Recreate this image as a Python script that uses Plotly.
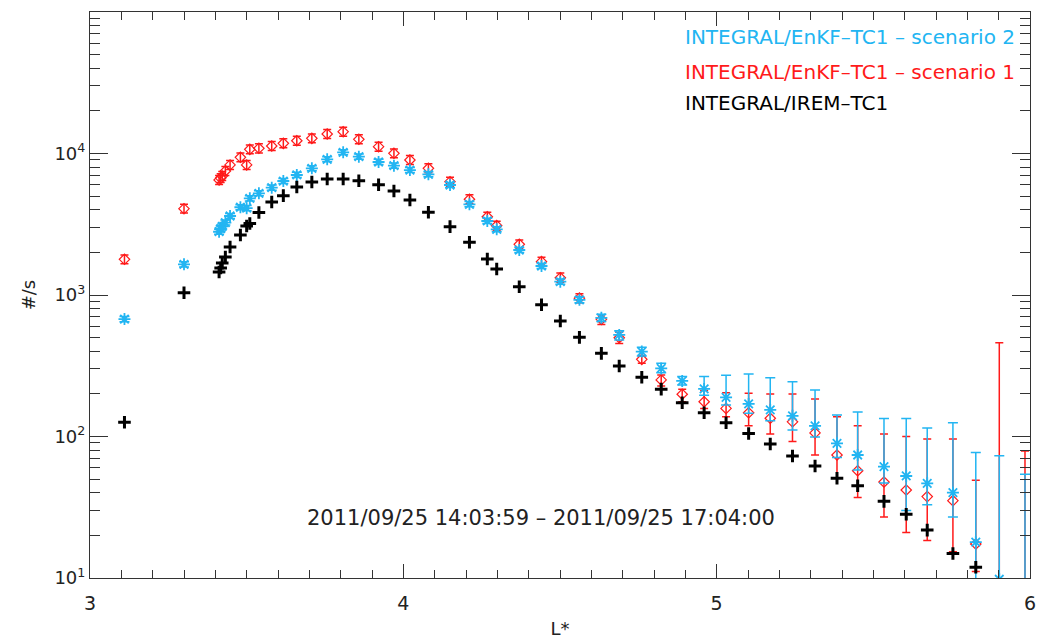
import plotly.graph_objects as go

# L* values shared by all three series
lstar = [3.11, 3.30, 3.412, 3.417, 3.422, 3.432, 3.447, 3.480, 3.500, 3.510,
         3.539, 3.580, 3.617, 3.660, 3.708, 3.757, 3.808, 3.858, 3.921, 3.970,
         4.021, 4.080, 4.149, 4.211, 4.268, 4.298, 4.370, 4.441, 4.501, 4.562,
         4.632, 4.689, 4.761, 4.823, 4.890, 4.960, 5.030, 5.102, 5.171, 5.242,
         5.314, 5.384, 5.450, 5.534, 5.605, 5.672, 5.754, 5.827, 5.902, 5.984]

# INTEGRAL/IREM-TC1 (black)
irem = [126, 1038, 1455, 1550, 1680, 1857, 2183, 2655, 3075, 3200,
        3830, 4540, 5035, 5800, 6290, 6600, 6600, 6420, 6010, 5430,
        4690, 3840, 3040, 2357, 1796, 1527, 1145, 854, 655, 502,
        387, 315, 262, 216, 173, 147, 125, 105, 88.5, 72.8,
        61.9, 50.7, 44.9, 34.8, 28.2, 21.8, 14.9, 11.9, None, None]

# INTEGRAL/EnKF-TC1 - scenario 1 (red)
sc1 = [1787, 4074, 6500, 6700, 6935, 7520, 8300, 9400, 8300, 10700,
       10880, 11300, 11800, 12300, 12800, 13740, 14260, 12600, 11170, 10030,
       9000, 7860, 6320, 4750, 3575, 3090, 2282, 1720, 1325, 950,
       673, 499, 351, 251, 199, 176, 158, 147, 134.5, 127,
       106, 74, 57.3, 47.7, 41.9, 37.6, 35.2, 17.4, 8.5, 8]
sc1_hi = [1920, 4380, 6990, 7200, 7460, 8080, 8920, 10100, 8920, 11500,
          11700, 12150, 12690, 13220, 13760, 14770, 15330, 13550, 12010, 10780,
          9680, 8450, 6790, 5110, 3840, 3320, 2450, 1850, 1430, 1020,
          725, 545, 371, 272, 216, 211, 204, 202, 200, 200,
          184, 138, 119, 104, 100, 96, 96, 49, 460, 79]
sc1_lo = [1660, 3790, 6050, 6230, 6450, 6990, 7720, 8740, 7720, 9950,
          10100, 10500, 10970, 11440, 11900, 12780, 13260, 11720, 10390, 9330,
          8370, 7310, 5880, 4420, 3320, 2870, 2120, 1600, 1230, 880,
          620, 455, 329, 227, 176, 158, 138, 119, 104, 92,
          74, 51, 37, 27, 21, 18.4, 15.3, 11.1, 1, 1]

# INTEGRAL/EnKF-TC1 - scenario 2 (blue)
sc2 = [676, 1648, 2800, 2950, 3050, 3250, 3616, 4170, 4110, 4820,
       5230, 5730, 6390, 7050, 7860, 9100, 10200, 9500, 8710, 8200,
       7640, 7130, 5990, 4375, 3335, 2913, 2080, 1603, 1242, 925,
       690, 522, 398, 303, 247, 217, 189, 170, 154, 140,
       119, 89.5, 74, 61.2, 52.6, 46.7, 40.1, 17.9, 9.8, 8]
sc2_hi = [705, 1720, 2920, 3080, 3180, 3390, 3770, 4350, 4290, 5030,
          5460, 5980, 6670, 7360, 8200, 9500, 10650, 9910, 9090, 8560,
          7970, 7440, 6250, 4570, 3480, 3040, 2170, 1670, 1300, 970,
          730, 560, 427, 329, 265, 265, 271, 277, 260, 244,
          213, 142, 149, 134, 134, 115, 125, 77, 73, 54]
sc2_lo = [648, 1580, 2690, 2830, 2930, 3120, 3470, 4000, 3940, 4620,
          5020, 5500, 6130, 6760, 7540, 8730, 9790, 9120, 8360, 7870,
          7330, 6840, 5750, 4200, 3200, 2800, 2000, 1540, 1190, 880,
          650, 481, 371, 282, 231, 196, 167, 146, 129, 111,
          99, 71, 58, 47, 30, 33, 27, 3, 1, 1]

legend_labels = ["INTEGRAL/EnKF\u2013TC1 \u2013 scenario 2",
                 "INTEGRAL/EnKF\u2013TC1 \u2013 scenario 1",
                 "INTEGRAL/IREM\u2013TC1"]
date_label = "2011/09/25 14:03:59 \u2013 2011/09/25 17:04:00"
ytick_vals = [1e1, 1e2, 1e3, 1e4, 1e5]
ytick_text = ["10<sup>1</sup>", "10<sup>2</sup>", "10<sup>3</sup>",
              "10<sup>4</sup>", "10<sup>5</sup>"]

RED = "#ff1a1a"
BLUE = "#22b5f2"
FONT = "DejaVu Sans"

def plus(v, hi):
    return [h - x for x, h in zip(v, hi)]

def minus(v, lo):
    return [x - l for x, l in zip(v, lo)]

fig = go.Figure()

fig.add_trace(go.Scatter(
    x=lstar, y=sc1, mode="markers",
    marker=dict(symbol="diamond-open", size=8, color=RED, line=dict(width=1.2, color=RED)),
    error_y=dict(type="data", symmetric=False, array=plus(sc1, sc1_hi),
                 arrayminus=minus(sc1, sc1_lo), color=RED, thickness=1.5, width=4),
    showlegend=False))

fig.add_trace(go.Scatter(
    x=lstar, y=sc2, mode="markers",
    marker=dict(symbol="asterisk-open", size=10, color=BLUE, line=dict(width=1.8, color=BLUE)),
    error_y=dict(type="data", symmetric=False, array=plus(sc2, sc2_hi),
                 arrayminus=minus(sc2, sc2_lo), color=BLUE, thickness=1.5, width=5),
    showlegend=False))

fig.add_trace(go.Scatter(
    x=lstar, y=irem, mode="markers",
    marker=dict(symbol="cross-thin-open", size=9, color="black",
                line=dict(width=3, color="black")),
    showlegend=False))

minor_y = [m * 10 ** d for d in range(1, 5) for m in range(2, 10)]

fig.update_layout(
    width=1038, height=639,
    margin=dict(l=90, r=8, t=12, b=61),
    paper_bgcolor="white", plot_bgcolor="white",
    font=dict(family=FONT, size=16, color="#222"),
    xaxis=dict(range=[3, 6], tickvals=[3, 4, 5, 6], ticktext=["3", "4", "5", "6"],
               ticks="inside", ticklen=14, tickwidth=1.2, tickcolor="#333",
               showline=True, linecolor="#333", linewidth=1.2, mirror="allticks",
               showgrid=False, zeroline=False, automargin=False,
               ticklabelstandoff=8,
               minor=dict(dtick=0.1, ticks="inside", ticklen=8, tickwidth=1.2,
                          tickcolor="#333", showgrid=False),
               title=dict(text="L*", font=dict(size=18), standoff=14),
               tickfont=dict(size=19)),
    yaxis=dict(type="log", range=[1, 5], tickmode="array", tickvals=ytick_vals,
               ticktext=ytick_text, ticks="inside", ticklen=18, tickwidth=1.2,
               tickcolor="#333", showline=True, linecolor="#333", linewidth=1.2,
               mirror="allticks", showgrid=False, zeroline=False, automargin=False,
               minor=dict(tickmode="array", tickvals=minor_y, ticks="inside",
                          ticklen=10, tickwidth=1.2, tickcolor="#333", showgrid=False),
               title=dict(text="#/s", font=dict(size=18), standoff=14),
               tickfont=dict(size=18)),
    hovermode=False,
)

for i, (txt, col) in enumerate(zip(legend_labels, [BLUE, RED, "black"])):
    fig.add_annotation(x=0.631, y=[0.956, 0.894, 0.839][i], xref="paper", yref="paper",
                       text=txt, showarrow=False, xanchor="left", yanchor="middle",
                       font=dict(family=FONT, size=20, color=col))

fig.add_annotation(x=0.48, y=0.106, xref="paper", yref="paper", text=date_label,
                   showarrow=False, xanchor="center", yanchor="middle",
                   font=dict(family=FONT, size=21, color="#222"))

fig.write_html("out.html")
